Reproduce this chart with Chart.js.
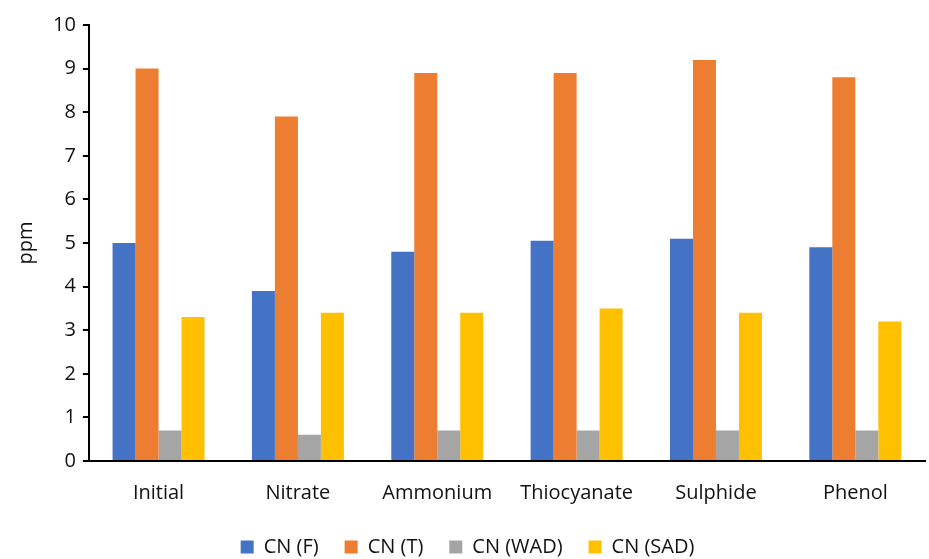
<!DOCTYPE html>
<html>
<head>
<meta charset="utf-8">
<script src="https://cdn.jsdelivr.net/npm/chart.js@4"></script>
<style>
  body { margin: 0; background: #fff; }
  #wrap { width: 929px; height: 559px; }
</style>
</head>
<body>
<div id="wrap"><canvas id="grafico" width="929" height="559"></canvas></div>
<script>
const categorias = ['Initial', 'Nitrate', 'Ammonium', 'Thiocyanate', 'Sulphide', 'Phenol'];
const cnF = [5.0, 3.9, 4.8, 5.05, 5.1, 4.9];
const cnT = [9.0, 7.9, 8.9, 8.9, 9.2, 8.8];
const cnWAD = [0.7, 0.6, 0.7, 0.7, 0.7, 0.7];
const cnSAD = [3.3, 3.4, 3.4, 3.5, 3.4, 3.2];
const yTicks = [0, 1, 2, 3, 4, 5, 6, 7, 8, 9, 10];

const fonte = "'Open Sans', 'Liberation Sans', sans-serif";

// Função para montar uma série
function serie(label, data, cor) {
    return {
        label: label,
        data: data,
        backgroundColor: cor,
        borderWidth: 0,
        categoryPercentage: 0.66,
        barPercentage: 1.0
    };
}

const ctx = document.getElementById('grafico').getContext('2d');
const chart = new Chart(ctx, {
    type: 'bar',
    data: {
        labels: categorias,
        datasets: [
            serie('CN (F)', cnF, '#4472C4'),
            serie('CN (T)', cnT, '#ED7D31'),
            serie('CN (WAD)', cnWAD, '#A5A5A5'),
            serie('CN (SAD)', cnSAD, '#FFC000')
        ]
    },
    options: {
        responsive: false,
        animation: false,
        layout: { padding: { left: 10, right: 4, top: 25, bottom: -8 } },
        plugins: {
            legend: {
                position: 'bottom',
                labels: {
                    font: { family: fonte, size: 20 },
                    color: '#111',
                    boxWidth: 13,
                    boxHeight: 13,
                    padding: 26
                }
            },
            tooltip: { enabled: false }
        },
        scales: {
            x: {
                // encurta a altura do eixo para aproximar a legenda
                afterFit: (scale) => { scale.height -= 14; },
                grid: { display: true, drawOnChartArea: false, drawTicks: false },
                border: { display: true, color: '#000', width: 2 },
                ticks: {
                    font: { family: fonte, size: 20 },
                    color: '#111',
                    padding: 20
                }
            },
            y: {
                min: 0,
                max: 10,
                afterBuildTicks: (axis) => { axis.ticks = yTicks.map(v => ({ value: v })); },
                grid: { display: true, drawOnChartArea: false, drawTicks: true, tickLength: 6, color: '#000', lineWidth: 2 },
                border: { display: true, color: '#000', width: 2 },
                ticks: {
                    font: { family: fonte, size: 20 },
                    color: '#111',
                    padding: 7
                },
                title: {
                    display: true,
                    text: 'ppm',
                    font: { family: fonte, size: 20 },
                    color: '#111',
                    padding: { bottom: 8 }
                }
            }
        }
    }
});
</script>
</body>
</html>
